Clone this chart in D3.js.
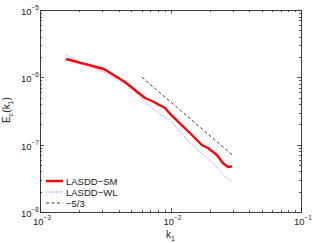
<!DOCTYPE html>
<html>
<head>
<meta charset="utf-8">
<script src="https://cdn.jsdelivr.net/npm/d3@7"></script>
<style>
	body { margin: 0; background: #fff; }
	svg { display: block; font-family: "Liberation Sans", Arial, Helvetica, sans-serif; }
	.axis path, .axis line { stroke: #333; stroke-width: 0.8; shape-rendering: crispEdges; }
	.axis text { fill: #222; }
</style>
</head>
<body>
<svg id="chart"></svg>
<script>
(function() {

	// DATA
	var smK = [1.58e-3, 3.09e-3, 4.48e-3, 5.34e-3, 6.38e-3, 7.22e-3, 9.08e-3, 1.03e-2, 1.41e-2, 1.74e-2, 1.94e-2, 2.27e-2, 2.52e-2, 2.76e-2, 2.96e-2]
	var smE = [1.87e-6, 1.33e-6, 8.53e-7, 6.49e-7, 4.93e-7, 4.45e-7, 3.50e-7, 2.67e-7, 1.49e-7, 9.88e-8, 8.91e-8, 7.02e-8, 5.34e-8, 4.66e-8, 4.75e-8]

	var wlK = [1.58e-3, 2.21e-3, 3.09e-3, 4.65e-3, 6.38e-3, 8.02e-3, 9.91e-3, 1.41e-2, 1.91e-2, 2.27e-2, 2.62e-2, 2.96e-2]
	var wlE = [2.15e-6, 1.58e-6, 1.20e-6, 7.69e-7, 4.31e-7, 2.95e-7, 2.32e-7, 1.06e-7, 6.34e-8, 4.66e-8, 3.31e-8, 2.79e-8]

	var refK = [6.05e-3, 2.96e-2]
	var refE = [1.0e-6, 7.1e-8]

	var xDecades = [1e-3, 1e-2, 1e-1]
	var yDecades = [1e-8, 1e-7, 1e-6, 1e-5]
	var legendNames = ['LASDD\u2212SM', 'LASDD\u2212WL', '\u22125/3']

	// LAYOUT
	var W = 312, H = 243
	var margin = { top: 10, right: 11, bottom: 31, left: 40 }
	var width = W - margin.left - margin.right
	var height = H - margin.top - margin.bottom

	var svg = d3.select('#chart').attr('width', W).attr('height', H)
	var g = svg.append('g').attr('transform', 'translate(' + margin.left + ',' + margin.top + ')')

	var x = d3.scaleLog().domain([1e-3, 1e-1]).range([0, width])
	var y = d3.scaleLog().domain([1e-8, 1e-5]).range([height, 0])

	function minors(decades) {
		var out = []
		decades.slice(0, -1).forEach(function(d) {
			for (var i = 2; i < 10; i++) out.push(d * i)
		})
		return out
	}

	function expOf(v) { return Math.round(Math.log10(v)) }

	// frame + ticks on all four sides (pointing in)
	function addAxis(axisFn, scale, decades, transform, major) {
		var a = axisFn(scale)
			.tickValues(major ? decades : minors(decades))
			.tickSizeInner(major ? -4 : -2)
			.tickSizeOuter(0)
			.tickFormat('')
		var sel = g.append('g').attr('class', 'axis')
		if (transform) sel.attr('transform', transform)
		sel.call(a)
		return sel
	}

	;[true, false].forEach(function(major) {
		addAxis(d3.axisBottom, x, xDecades, 'translate(0,' + height + ')', major)
		addAxis(d3.axisTop, x, xDecades, null, major)
		addAxis(d3.axisLeft, y, yDecades, null, major)
		addAxis(d3.axisRight, y, yDecades, 'translate(' + width + ',0)', major)
	})

	// tick labels with superscript exponents
	function powerLabel(sel) {
		sel.append('tspan').attr('font-size', 9.5).text('10')
		sel.append('tspan').attr('font-size', 6.5).attr('dy', -5)
			.text(function(d) { return '\u2212' + (-expOf(d)) })
	}

	g.selectAll('.xlab').data(xDecades).enter().append('text')
		.attr('class', 'xlab')
		.attr('x', function(d) { return x(d) + 2 })
		.attr('y', height + 13)
		.attr('text-anchor', 'middle')
		.attr('fill', '#222')
		.call(powerLabel)

	g.selectAll('.ylab').data(yDecades).enter().append('text')
		.attr('class', 'ylab')
		.attr('x', -1)
		.attr('y', function(d) { return y(d) + 5 })
		.attr('text-anchor', 'end')
		.attr('fill', '#222')
		.call(powerLabel)

	// axis titles
	var xt = svg.append('text')
		.attr('x', margin.left + x(1e-2))
		.attr('y', H - 5)
		.attr('text-anchor', 'middle')
		.attr('font-size', 10)
		.attr('fill', '#222')
	xt.append('tspan').text('k')
	xt.append('tspan').attr('font-size', 7).attr('dy', 3).text('1')

	var yt = svg.append('text')
		.attr('transform', 'translate(10,' + 110 + ')rotate(-90)')
		.attr('text-anchor', 'middle')
		.attr('font-size', 10)
		.attr('fill', '#222')
	yt.append('tspan').text('E')
	yt.append('tspan').attr('font-size', 7).attr('dy', 3).text('c')
	yt.append('tspan').attr('dy', -3).text('(k')
	yt.append('tspan').attr('font-size', 7).attr('dy', 3).text('1')
	yt.append('tspan').attr('dy', -3).text(')')

	// series
	var line = d3.line()
		.x(function(d) { return x(d[0]) })
		.y(function(d) { return y(d[1]) })

	var series = [
		{ pts: d3.zip(smK, smE), color: '#ff0000', w: 2.4, dash: null },
		{ pts: d3.zip(wlK, wlE), color: '#7c7cff', w: 1, dash: '1,1.5' },
		{ pts: d3.zip(refK, refE), color: '#222', w: 0.9, dash: '3,2.5' }
	]

	g.selectAll('.series').data(series).enter().append('path')
		.attr('class', 'series')
		.attr('d', function(d) { return line(d.pts) })
		.attr('fill', 'none')
		.attr('stroke', function(d) { return d.color })
		.attr('stroke-width', function(d) { return d.w })
		.attr('stroke-dasharray', function(d) { return d.dash })
		.attr('stroke-linejoin', 'round')

	// legend
	var leg = g.append('g').attr('transform', 'translate(6,171)')
	var rows = leg.selectAll('.row').data(series).enter().append('g')
		.attr('transform', function(d, i) { return 'translate(0,' + (i * 11) + ')' })

	rows.append('line')
		.attr('x1', 0).attr('x2', 17)
		.attr('stroke', function(d) { return d.color })
		.attr('stroke-width', function(d) { return d.w })
		.attr('stroke-dasharray', function(d) { return d.dash })

	rows.append('text')
		.attr('x', 20)
		.attr('y', 3.5)
		.attr('font-size', 9.5)
		.attr('fill', '#222')
		.text(function(d, i) { return legendNames[i] })

})()
</script>
</body>
</html>
